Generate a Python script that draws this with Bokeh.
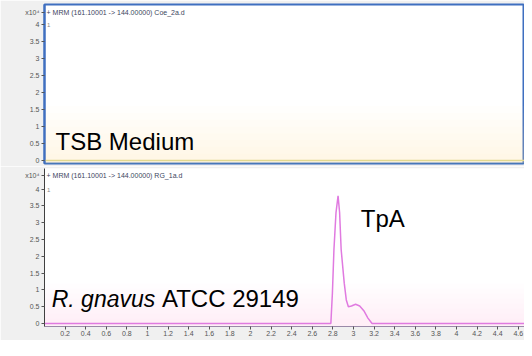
from bokeh.plotting import figure
from bokeh.layouts import column
from bokeh.models import (Range1d, FixedTicker, NumeralTickFormatter, Label,
                          CustomJSTickFormatter, BoxAnnotation)
from bokeh.embed import file_html
from bokeh.resources import INLINE

# ---- data (counts in units of 10^4, acquisition time in min) ----
rt_medium = [0.0, 4.8]
counts_medium = [0.0, 0.0]

rt_gnavus = [0.0, 2.60, 2.78, 2.795, 2.81, 2.83, 2.85, 2.865, 2.88, 2.91, 2.93,
             2.95, 2.98, 3.02, 3.06, 3.10, 3.14, 3.18, 4.8]
counts_gnavus = [0.0, 0.0, 0.0, 0.9, 2.2, 3.3, 3.8, 3.3, 2.2, 1.2, 0.7,
                 0.5, 0.52, 0.57, 0.52, 0.38, 0.16, 0.0, 0.0]

x_ticks = [0.2, 0.4, 0.6, 0.8, 1.0, 1.2, 1.4, 1.6, 1.8, 2.0, 2.2, 2.4, 2.6, 2.8,
           3.0, 3.2, 3.4, 3.6, 3.8, 4.0, 4.2, 4.4, 4.6, 4.8]
y_ticks = [0, 0.5, 1, 1.5, 2, 2.5, 3, 3.5, 4]

title_medium = "+ MRM (161.10001 -> 144.00000) Coe_2a.d"
title_gnavus = "+ MRM (161.10001 -> 144.00000) RG_1a.d"
label_medium = "TSB Medium"
label_species = "R. gnavus"
label_strain = "ATCC 29149"
label_peak = "TpA"

FONT = "Liberation Sans"
BG = "#f0f0f0"

# tick formatter: the top extra tick carries the "x10^4" scale label
y_fmt = CustomJSTickFormatter(code="""
if (tick > 4.2) { return "x10\\u2074"; }
return String(Math.round(tick * 10) / 10);
""")


def style(p, title_y, tint, tint_top):
    p.background_fill_color = "white"
    p.border_fill_color = BG
    p.min_border_left = 44
    p.min_border_right = 0
    p.grid.visible = False
    yax = p.yaxis[0]
    yax.ticker = FixedTicker(ticks=y_ticks + [title_y])
    yax.formatter = y_fmt
    yax.major_label_text_font = FONT
    yax.major_label_text_font_size = "7px"
    yax.major_label_text_color = "#555555"
    yax.major_label_standoff = 2
    yax.major_tick_out = 3
    yax.major_tick_in = 0
    yax.minor_tick_out = 0
    yax.minor_tick_in = 0
    yax.major_tick_line_color = "#555555"
    yax.axis_line_color = "#404040"
    # very soft tint toward the bottom of the plot area
    steps = 8
    for i in range(steps):
        top_val = tint_top * (i + 1) / steps
        p.add_layout(BoxAnnotation(top=top_val, fill_color=tint, fill_alpha=0.035,
                                   line_color=None, level="underlay"))


x_range = Range1d(0, 4.66)

# ---- top panel ----
top = figure(width=524, height=166, x_range=x_range, y_range=Range1d(-0.09, 4.59),
             output_backend="svg", toolbar_location=None)
style(top, 4.36, "#fff0b0", 1.6)
top.min_border_top = 4
top.min_border_bottom = 3
top.xaxis.visible = False
top.outline_line_color = "#3f6fc0"
top.outline_line_width = 2
top.yaxis.axis_line_color = "#3f6fc0"
top.yaxis.axis_line_width = 2
top.line(rt_medium, counts_medium, line_color="#e2d890", line_width=1.5)

top.add_layout(Label(x=0.02, y=4.36, text=title_medium, text_font=FONT,
                     text_font_size="7px", text_color="#3c4660", text_baseline="middle"))
top.add_layout(Label(x=0.025, y=4.0, text="1", text_font=FONT,
                     text_font_size="6px", text_color="#888888", text_baseline="middle"))
top.add_layout(Label(x=0.107, y=0.57, text=label_medium, text_font=FONT,
                     text_font_size="24px", text_color="black", text_baseline="middle"))

# ---- bottom panel ----
bot = figure(width=524, height=174, x_range=x_range, y_range=Range1d(-0.09, 4.61),
             output_backend="svg", toolbar_location=None)
style(bot, 4.41, "#f4c8ee", 1.2)
bot.min_border_top = 2
bot.min_border_bottom = 14
bot.outline_line_color = None
xax = bot.xaxis[0]
xax.ticker = FixedTicker(ticks=x_ticks)
xax.formatter = NumeralTickFormatter(format="0.[0]")
xax.major_label_text_font = FONT
xax.major_label_text_font_size = "7px"
xax.major_label_text_color = "#555555"
xax.major_label_standoff = 1
xax.major_tick_out = 3
xax.major_tick_in = 0
xax.minor_tick_out = 0
xax.minor_tick_in = 0
xax.major_tick_line_color = "#555555"
xax.axis_line_color = "#9a8aa8"

bot.line(rt_gnavus, counts_gnavus, line_color="#e07ae0", line_width=1.5)

bot.add_layout(Label(x=0.02, y=4.41, text=title_gnavus, text_font=FONT,
                     text_font_size="7px", text_color="#3c4660", text_baseline="middle"))
bot.add_layout(Label(x=0.025, y=3.96, text="1", text_font=FONT,
                     text_font_size="6px", text_color="#888888", text_baseline="middle"))
bot.add_layout(Label(x=0.07, y=0.74, text=label_species, text_font=FONT,
                     text_font_size="23px", text_font_style="italic",
                     text_color="black", text_baseline="middle"))
bot.add_layout(Label(x=1.14, y=0.74, text=label_strain, text_font=FONT,
                     text_font_size="24px", text_color="black", text_baseline="middle"))
bot.add_layout(Label(x=3.07, y=3.12, text=label_peak, text_font=FONT,
                     text_font_size="24px", text_color="black", text_baseline="middle"))

layout = column(top, bot, spacing=0)
open("out.html", "w").write(file_html(layout, INLINE))
